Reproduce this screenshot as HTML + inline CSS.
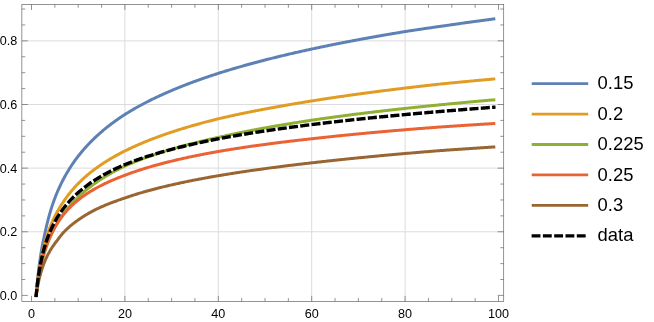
<!DOCTYPE html><html><head><meta charset="utf-8"><style>html,body{margin:0;padding:0;background:#fff;overflow:hidden}svg{display:block;will-change:transform}text{font-family:"Liberation Sans",sans-serif;fill:#000}</style></head><body>
<svg width="654" height="322" viewBox="0 0 654 322">
<rect width="654" height="322" fill="#fff"/>
<g stroke="#dcdcdc" stroke-width="1" fill="none"><line x1="124.90" y1="4.35" x2="124.90" y2="301.45"/><line x1="218.30" y1="4.35" x2="218.30" y2="301.45"/><line x1="311.70" y1="4.35" x2="311.70" y2="301.45"/><line x1="405.10" y1="4.35" x2="405.10" y2="301.45"/><line x1="21.85" y1="231.78" x2="503.70" y2="231.78"/><line x1="21.85" y1="168.14" x2="503.70" y2="168.14"/><line x1="21.85" y1="104.50" x2="503.70" y2="104.50"/><line x1="21.85" y1="40.86" x2="503.70" y2="40.86"/></g>
<g fill="none" stroke-width="3" stroke-linejoin="round" stroke-linecap="square">
<path d="M36.17,295.40 L37.10,284.35 L38.04,275.15 L38.97,267.26 L39.91,260.37 L40.84,254.25 L41.77,248.75 L42.71,243.75 L43.64,239.18 L44.58,234.92 L45.51,230.50 L46.44,226.37 L47.38,222.50 L48.31,218.87 L49.25,215.43 L50.18,212.19 L51.11,209.10 L52.05,206.16 L52.98,203.36 L53.92,200.68 L54.85,198.18 L55.78,195.79 L56.72,193.49 L57.65,191.27 L58.59,189.14 L59.52,187.08 L60.45,185.09 L61.39,183.16 L62.32,181.29 L63.26,179.48 L64.19,177.73 L65.12,176.02 L66.06,174.37 L66.99,172.75 L67.93,171.18 L68.86,169.66 L69.79,168.16 L70.73,166.71 L71.66,165.29 L72.60,163.90 L73.53,162.55 L74.46,161.22 L75.40,159.93 L76.33,158.66 L77.27,157.42 L78.20,156.20 L79.13,155.01 L80.07,153.84 L81.00,152.69 L81.94,151.57 L82.87,150.46 L83.80,149.38 L84.74,148.31 L85.67,147.26 L86.61,146.24 L87.54,145.23 L88.47,144.23 L89.41,143.25 L90.34,142.29 L91.28,141.34 L92.21,140.41 L93.14,139.49 L94.08,138.59 L95.01,137.70 L95.95,136.82 L96.88,135.95 L97.81,135.10 L98.75,134.26 L99.68,133.43 L100.62,132.61 L101.55,131.80 L102.48,131.00 L103.42,130.22 L104.35,129.44 L105.29,128.67 L106.22,127.92 L107.15,127.17 L108.09,126.43 L109.02,125.70 L109.96,124.98 L110.89,124.27 L111.82,123.56 L112.76,122.87 L113.69,122.18 L114.63,121.50 L115.56,120.82 L116.49,120.16 L117.43,119.50 L118.36,118.85 L119.30,118.20 L120.23,117.56 L121.16,116.93 L122.10,116.31 L123.03,115.69 L123.97,115.08 L124.90,114.47 L125.83,113.88 L126.77,113.30 L127.70,112.73 L128.64,112.16 L129.57,111.60 L130.50,111.04 L131.44,110.48 L132.37,109.93 L133.31,109.39 L134.24,108.85 L135.17,108.32 L136.11,107.79 L137.04,107.27 L137.98,106.75 L138.91,106.23 L139.84,105.72 L140.78,105.21 L141.71,104.71 L142.65,104.21 L143.58,103.72 L144.51,103.23 L145.45,102.74 L146.38,102.26 L147.32,101.78 L148.25,101.31 L149.18,100.84 L150.12,100.37 L151.05,99.90 L151.99,99.44 L152.92,98.99 L153.85,98.53 L154.79,98.08 L155.72,97.64 L156.66,97.19 L157.59,96.75 L158.52,96.32 L159.46,95.88 L160.39,95.45 L161.33,95.02 L162.26,94.60 L163.19,94.18 L164.13,93.76 L165.06,93.34 L166.00,92.93 L166.93,92.52 L167.86,92.11 L168.80,91.70 L169.73,91.30 L170.67,90.90 L171.60,90.51 L172.53,90.11 L173.47,89.72 L174.40,89.33 L175.34,88.94 L176.27,88.56 L177.20,88.17 L178.14,87.80 L179.07,87.42 L180.01,87.04 L180.94,86.67 L181.87,86.30 L182.81,85.93 L183.74,85.56 L184.68,85.20 L185.61,84.84 L186.54,84.48 L187.48,84.12 L188.41,83.76 L189.35,83.41 L190.28,83.06 L191.21,82.71 L192.15,82.36 L193.08,82.02 L194.02,81.67 L194.95,81.33 L195.88,80.99 L196.82,80.65 L197.75,80.32 L198.69,79.98 L199.62,79.65 L200.55,79.32 L201.49,78.99 L202.42,78.66 L203.36,78.34 L204.29,78.01 L205.22,77.69 L206.16,77.37 L207.09,77.05 L208.03,76.73 L208.96,76.42 L209.89,76.10 L210.83,75.79 L211.76,75.48 L212.70,75.17 L213.63,74.86 L214.56,74.56 L215.50,74.25 L216.43,73.95 L217.37,73.65 L218.30,73.35 L219.23,73.05 L220.17,72.76 L221.10,72.46 L222.04,72.17 L222.97,71.88 L223.90,71.59 L224.84,71.30 L225.77,71.02 L226.71,70.73 L227.64,70.45 L228.57,70.16 L229.51,69.88 L230.44,69.60 L231.38,69.32 L232.31,69.04 L233.24,68.77 L234.18,68.49 L235.11,68.22 L236.05,67.95 L236.98,67.67 L237.91,67.40 L238.85,67.13 L239.78,66.87 L240.72,66.60 L241.65,66.33 L242.58,66.07 L243.52,65.80 L244.45,65.54 L245.39,65.28 L246.32,65.02 L247.25,64.76 L248.19,64.50 L249.12,64.25 L250.06,63.99 L250.99,63.74 L251.92,63.48 L252.86,63.23 L253.79,62.98 L254.73,62.73 L255.66,62.48 L256.59,62.23 L257.53,61.98 L258.46,61.73 L259.40,61.49 L260.33,61.24 L261.26,61.00 L262.20,60.75 L263.13,60.51 L264.07,60.27 L265.00,60.03 L265.93,59.79 L266.87,59.55 L267.80,59.31 L268.74,59.08 L269.67,58.84 L270.60,58.61 L271.54,58.37 L272.47,58.14 L273.41,57.91 L274.34,57.68 L275.27,57.45 L276.21,57.22 L277.14,56.99 L278.08,56.76 L279.01,56.53 L279.94,56.30 L280.88,56.08 L281.81,55.85 L282.75,55.63 L283.68,55.41 L284.61,55.18 L285.55,54.96 L286.48,54.74 L287.42,54.52 L288.35,54.30 L289.28,54.08 L290.22,53.87 L291.15,53.65 L292.09,53.43 L293.02,53.22 L293.95,53.00 L294.89,52.79 L295.82,52.57 L296.76,52.36 L297.69,52.15 L298.62,51.94 L299.56,51.73 L300.49,51.52 L301.43,51.31 L302.36,51.10 L303.29,50.89 L304.23,50.69 L305.16,50.48 L306.10,50.27 L307.03,50.07 L307.96,49.86 L308.90,49.66 L309.83,49.46 L310.77,49.25 L311.70,49.05 L312.63,48.85 L313.57,48.65 L314.50,48.45 L315.44,48.25 L316.37,48.05 L317.30,47.86 L318.24,47.66 L319.17,47.46 L320.11,47.27 L321.04,47.07 L321.97,46.88 L322.91,46.68 L323.84,46.49 L324.78,46.30 L325.71,46.10 L326.64,45.91 L327.58,45.72 L328.51,45.53 L329.45,45.34 L330.38,45.15 L331.31,44.96 L332.25,44.77 L333.18,44.59 L334.12,44.40 L335.05,44.21 L335.98,44.03 L336.92,43.84 L337.85,43.66 L338.79,43.47 L339.72,43.29 L340.65,43.10 L341.59,42.92 L342.52,42.74 L343.46,42.56 L344.39,42.38 L345.32,42.20 L346.26,42.02 L347.19,41.84 L348.13,41.66 L349.06,41.48 L349.99,41.30 L350.93,41.12 L351.86,40.94 L352.80,40.77 L353.73,40.59 L354.66,40.41 L355.60,40.24 L356.53,40.06 L357.47,39.89 L358.40,39.72 L359.33,39.54 L360.27,39.37 L361.20,39.20 L362.14,39.02 L363.07,38.85 L364.00,38.68 L364.94,38.51 L365.87,38.34 L366.81,38.17 L367.74,38.00 L368.67,37.83 L369.61,37.66 L370.54,37.50 L371.48,37.33 L372.41,37.16 L373.34,36.99 L374.28,36.83 L375.21,36.66 L376.15,36.50 L377.08,36.33 L378.01,36.17 L378.95,36.00 L379.88,35.84 L380.82,35.68 L381.75,35.51 L382.68,35.35 L383.62,35.19 L384.55,35.03 L385.49,34.86 L386.42,34.70 L387.35,34.54 L388.29,34.38 L389.22,34.22 L390.16,34.06 L391.09,33.90 L392.02,33.75 L392.96,33.59 L393.89,33.43 L394.83,33.27 L395.76,33.12 L396.69,32.96 L397.63,32.80 L398.56,32.65 L399.50,32.49 L400.43,32.34 L401.36,32.18 L402.30,32.03 L403.23,31.87 L404.17,31.72 L405.10,31.57 L406.03,31.42 L406.97,31.28 L407.90,31.13 L408.84,30.99 L409.77,30.85 L410.70,30.71 L411.64,30.56 L412.57,30.42 L413.51,30.28 L414.44,30.14 L415.37,30.00 L416.31,29.86 L417.24,29.71 L418.18,29.57 L419.11,29.43 L420.04,29.30 L420.98,29.16 L421.91,29.02 L422.85,28.88 L423.78,28.74 L424.71,28.60 L425.65,28.46 L426.58,28.33 L427.52,28.19 L428.45,28.05 L429.38,27.92 L430.32,27.78 L431.25,27.65 L432.19,27.51 L433.12,27.37 L434.05,27.24 L434.99,27.10 L435.92,26.97 L436.86,26.84 L437.79,26.70 L438.72,26.57 L439.66,26.44 L440.59,26.30 L441.53,26.17 L442.46,26.04 L443.39,25.91 L444.33,25.77 L445.26,25.64 L446.20,25.51 L447.13,25.38 L448.06,25.25 L449.00,25.12 L449.93,24.99 L450.87,24.85 L451.80,24.72 L452.73,24.58 L453.67,24.45 L454.60,24.31 L455.54,24.18 L456.47,24.05 L457.40,23.91 L458.34,23.78 L459.27,23.65 L460.21,23.52 L461.14,23.38 L462.07,23.25 L463.01,23.12 L463.94,22.99 L464.88,22.86 L465.81,22.73 L466.74,22.59 L467.68,22.46 L468.61,22.33 L469.55,22.20 L470.48,22.07 L471.41,21.94 L472.35,21.82 L473.28,21.69 L474.22,21.56 L475.15,21.43 L476.08,21.30 L477.02,21.17 L477.95,21.05 L478.89,20.92 L479.82,20.79 L480.75,20.66 L481.69,20.54 L482.62,20.41 L483.56,20.29 L484.49,20.16 L485.42,20.03 L486.36,19.91 L487.29,19.78 L488.23,19.66 L489.16,19.53 L490.09,19.41 L491.03,19.28 L491.96,19.16 L492.90,19.04 L493.83,18.91" stroke="#5E81B5"/>
<path d="M36.17,295.40 L37.10,286.01 L38.04,278.17 L38.97,271.44 L39.91,265.56 L40.84,260.34 L41.77,255.65 L42.71,251.39 L43.64,247.49 L44.58,243.90 L45.51,240.56 L46.44,237.46 L47.38,234.56 L48.31,231.83 L49.25,229.26 L50.18,226.83 L51.11,224.53 L52.05,222.34 L52.98,220.25 L53.92,218.26 L54.85,216.35 L55.78,214.52 L56.72,212.76 L57.65,211.07 L58.59,209.44 L59.52,207.87 L60.45,206.36 L61.39,204.89 L62.32,203.47 L63.26,202.08 L64.19,200.68 L65.12,199.32 L66.06,198.00 L66.99,196.72 L67.93,195.47 L68.86,194.25 L69.79,193.07 L70.73,191.92 L71.66,190.79 L72.60,189.69 L73.53,188.62 L74.46,187.57 L75.40,186.54 L76.33,185.54 L77.27,184.56 L78.20,183.59 L79.13,182.65 L80.07,181.73 L81.00,180.82 L81.94,179.94 L82.87,179.07 L83.80,178.21 L84.74,177.38 L85.67,176.55 L86.61,175.74 L87.54,174.95 L88.47,174.17 L89.41,173.40 L90.34,172.64 L91.28,171.90 L92.21,171.17 L93.14,170.45 L94.08,169.74 L95.01,169.05 L95.95,168.36 L96.88,167.68 L97.81,167.01 L98.75,166.36 L99.68,165.71 L100.62,165.07 L101.55,164.44 L102.48,163.82 L103.42,163.21 L104.35,162.60 L105.29,162.00 L106.22,161.41 L107.15,160.83 L108.09,160.26 L109.02,159.69 L109.96,159.13 L110.89,158.58 L111.82,158.03 L112.76,157.49 L113.69,156.96 L114.63,156.43 L115.56,155.91 L116.49,155.39 L117.43,154.88 L118.36,154.38 L119.30,153.88 L120.23,153.38 L121.16,152.90 L122.10,152.41 L123.03,151.94 L123.97,151.46 L124.90,150.99 L125.83,150.53 L126.77,150.07 L127.70,149.61 L128.64,149.16 L129.57,148.71 L130.50,148.27 L131.44,147.83 L132.37,147.40 L133.31,146.97 L134.24,146.54 L135.17,146.12 L136.11,145.70 L137.04,145.29 L137.98,144.88 L138.91,144.47 L139.84,144.07 L140.78,143.67 L141.71,143.27 L142.65,142.88 L143.58,142.49 L144.51,142.10 L145.45,141.72 L146.38,141.34 L147.32,140.96 L148.25,140.59 L149.18,140.22 L150.12,139.85 L151.05,139.48 L151.99,139.12 L152.92,138.76 L153.85,138.41 L154.79,138.05 L155.72,137.70 L156.66,137.35 L157.59,137.01 L158.52,136.67 L159.46,136.33 L160.39,135.99 L161.33,135.65 L162.26,135.32 L163.19,134.99 L164.13,134.66 L165.06,134.34 L166.00,134.01 L166.93,133.69 L167.86,133.37 L168.80,133.06 L169.73,132.74 L170.67,132.43 L171.60,132.12 L172.53,131.81 L173.47,131.50 L174.40,131.20 L175.34,130.90 L176.27,130.60 L177.20,130.30 L178.14,130.00 L179.07,129.71 L180.01,129.42 L180.94,129.13 L181.87,128.84 L182.81,128.55 L183.74,128.27 L184.68,127.98 L185.61,127.70 L186.54,127.42 L187.48,127.14 L188.41,126.87 L189.35,126.59 L190.28,126.32 L191.21,126.05 L192.15,125.78 L193.08,125.51 L194.02,125.24 L194.95,124.98 L195.88,124.72 L196.82,124.45 L197.75,124.19 L198.69,123.93 L199.62,123.68 L200.55,123.42 L201.49,123.17 L202.42,122.91 L203.36,122.66 L204.29,122.41 L205.22,122.16 L206.16,121.91 L207.09,121.67 L208.03,121.42 L208.96,121.18 L209.89,120.93 L210.83,120.69 L211.76,120.45 L212.70,120.21 L213.63,119.98 L214.56,119.74 L215.50,119.51 L216.43,119.27 L217.37,119.04 L218.30,118.81 L219.23,118.59 L220.17,118.37 L221.10,118.16 L222.04,117.94 L222.97,117.73 L223.90,117.51 L224.84,117.30 L225.77,117.09 L226.71,116.88 L227.64,116.67 L228.57,116.46 L229.51,116.26 L230.44,116.05 L231.38,115.84 L232.31,115.64 L233.24,115.44 L234.18,115.23 L235.11,115.03 L236.05,114.83 L236.98,114.63 L237.91,114.43 L238.85,114.24 L239.78,114.04 L240.72,113.84 L241.65,113.65 L242.58,113.45 L243.52,113.26 L244.45,113.07 L245.39,112.88 L246.32,112.69 L247.25,112.50 L248.19,112.31 L249.12,112.12 L250.06,111.93 L250.99,111.74 L251.92,111.56 L252.86,111.37 L253.79,111.19 L254.73,111.01 L255.66,110.82 L256.59,110.64 L257.53,110.46 L258.46,110.28 L259.40,110.10 L260.33,109.92 L261.26,109.74 L262.20,109.56 L263.13,109.39 L264.07,109.21 L265.00,109.04 L265.93,108.86 L266.87,108.69 L267.80,108.51 L268.74,108.34 L269.67,108.17 L270.60,108.00 L271.54,107.83 L272.47,107.66 L273.41,107.49 L274.34,107.32 L275.27,107.15 L276.21,106.98 L277.14,106.82 L278.08,106.65 L279.01,106.49 L279.94,106.32 L280.88,106.16 L281.81,105.99 L282.75,105.83 L283.68,105.66 L284.61,105.50 L285.55,105.33 L286.48,105.17 L287.42,105.00 L288.35,104.84 L289.28,104.68 L290.22,104.52 L291.15,104.36 L292.09,104.19 L293.02,104.03 L293.95,103.87 L294.89,103.72 L295.82,103.56 L296.76,103.40 L297.69,103.24 L298.62,103.09 L299.56,102.93 L300.49,102.77 L301.43,102.62 L302.36,102.46 L303.29,102.31 L304.23,102.16 L305.16,102.00 L306.10,101.85 L307.03,101.70 L307.96,101.55 L308.90,101.40 L309.83,101.25 L310.77,101.10 L311.70,100.95 L312.63,100.80 L313.57,100.65 L314.50,100.50 L315.44,100.36 L316.37,100.21 L317.30,100.06 L318.24,99.92 L319.17,99.77 L320.11,99.63 L321.04,99.48 L321.97,99.34 L322.91,99.19 L323.84,99.05 L324.78,98.91 L325.71,98.77 L326.64,98.62 L327.58,98.48 L328.51,98.34 L329.45,98.20 L330.38,98.06 L331.31,97.92 L332.25,97.78 L333.18,97.64 L334.12,97.51 L335.05,97.37 L335.98,97.23 L336.92,97.09 L337.85,96.96 L338.79,96.82 L339.72,96.68 L340.65,96.55 L341.59,96.41 L342.52,96.28 L343.46,96.15 L344.39,96.01 L345.32,95.88 L346.26,95.75 L347.19,95.61 L348.13,95.48 L349.06,95.35 L349.99,95.22 L350.93,95.09 L351.86,94.96 L352.80,94.83 L353.73,94.70 L354.66,94.57 L355.60,94.44 L356.53,94.31 L357.47,94.18 L358.40,94.05 L359.33,93.93 L360.27,93.80 L361.20,93.67 L362.14,93.55 L363.07,93.42 L364.00,93.29 L364.94,93.17 L365.87,93.04 L366.81,92.92 L367.74,92.79 L368.67,92.67 L369.61,92.55 L370.54,92.42 L371.48,92.30 L372.41,92.18 L373.34,92.06 L374.28,91.93 L375.21,91.81 L376.15,91.69 L377.08,91.57 L378.01,91.45 L378.95,91.33 L379.88,91.21 L380.82,91.09 L381.75,90.97 L382.68,90.85 L383.62,90.73 L384.55,90.61 L385.49,90.49 L386.42,90.38 L387.35,90.26 L388.29,90.14 L389.22,90.02 L390.16,89.91 L391.09,89.79 L392.02,89.68 L392.96,89.56 L393.89,89.44 L394.83,89.33 L395.76,89.21 L396.69,89.10 L397.63,88.99 L398.56,88.87 L399.50,88.76 L400.43,88.65 L401.36,88.53 L402.30,88.42 L403.23,88.31 L404.17,88.19 L405.10,88.08 L406.03,87.97 L406.97,87.86 L407.90,87.75 L408.84,87.64 L409.77,87.53 L410.70,87.42 L411.64,87.31 L412.57,87.20 L413.51,87.09 L414.44,86.98 L415.37,86.87 L416.31,86.76 L417.24,86.65 L418.18,86.54 L419.11,86.44 L420.04,86.33 L420.98,86.22 L421.91,86.11 L422.85,86.01 L423.78,85.90 L424.71,85.79 L425.65,85.69 L426.58,85.58 L427.52,85.48 L428.45,85.37 L429.38,85.27 L430.32,85.16 L431.25,85.06 L432.19,84.95 L433.12,84.85 L434.05,84.74 L434.99,84.64 L435.92,84.54 L436.86,84.43 L437.79,84.33 L438.72,84.23 L439.66,84.13 L440.59,84.03 L441.53,83.94 L442.46,83.84 L443.39,83.75 L444.33,83.66 L445.26,83.56 L446.20,83.47 L447.13,83.38 L448.06,83.29 L449.00,83.19 L449.93,83.10 L450.87,83.01 L451.80,82.92 L452.73,82.83 L453.67,82.74 L454.60,82.65 L455.54,82.55 L456.47,82.46 L457.40,82.37 L458.34,82.28 L459.27,82.19 L460.21,82.10 L461.14,82.01 L462.07,81.93 L463.01,81.84 L463.94,81.75 L464.88,81.66 L465.81,81.57 L466.74,81.48 L467.68,81.39 L468.61,81.31 L469.55,81.22 L470.48,81.13 L471.41,81.04 L472.35,80.96 L473.28,80.87 L474.22,80.78 L475.15,80.70 L476.08,80.61 L477.02,80.52 L477.95,80.44 L478.89,80.35 L479.82,80.26 L480.75,80.18 L481.69,80.09 L482.62,80.01 L483.56,79.92 L484.49,79.84 L485.42,79.75 L486.36,79.67 L487.29,79.58 L488.23,79.50 L489.16,79.42 L490.09,79.33 L491.03,79.25 L491.96,79.17 L492.90,79.08 L493.83,79.00" stroke="#E19C24"/>
<path d="M36.17,295.40 L37.10,287.89 L38.04,281.51 L38.97,275.95 L39.91,271.02 L40.84,266.60 L41.77,262.59 L42.71,258.92 L43.64,255.54 L44.58,252.40 L45.51,249.48 L46.44,246.74 L47.38,244.17 L48.31,241.74 L49.25,239.44 L50.18,237.25 L51.11,235.14 L52.05,233.12 L52.98,231.20 L53.92,229.35 L54.85,227.58 L55.78,225.88 L56.72,224.25 L57.65,222.67 L58.59,221.15 L59.52,219.68 L60.45,218.25 L61.39,216.88 L62.32,215.54 L63.26,214.25 L64.19,212.99 L65.12,211.77 L66.06,210.58 L66.99,209.43 L67.93,208.30 L68.86,207.21 L69.79,206.10 L70.73,205.01 L71.66,203.95 L72.60,202.91 L73.53,201.89 L74.46,200.90 L75.40,199.93 L76.33,198.98 L77.27,198.05 L78.20,197.14 L79.13,196.25 L80.07,195.37 L81.00,194.51 L81.94,193.67 L82.87,192.84 L83.80,192.03 L84.74,191.24 L85.67,190.45 L86.61,189.68 L87.54,188.93 L88.47,188.18 L89.41,187.45 L90.34,186.73 L91.28,186.03 L92.21,185.33 L93.14,184.64 L94.08,183.97 L95.01,183.30 L95.95,182.65 L96.88,182.00 L97.81,181.37 L98.75,180.74 L99.68,180.12 L100.62,179.51 L101.55,178.91 L102.48,178.32 L103.42,177.73 L104.35,177.16 L105.29,176.59 L106.22,176.02 L107.15,175.47 L108.09,174.92 L109.02,174.38 L109.96,173.84 L110.89,173.32 L111.82,172.79 L112.76,172.28 L113.69,171.77 L114.63,171.26 L115.56,170.76 L116.49,170.27 L117.43,169.79 L118.36,169.30 L119.30,168.83 L120.23,168.36 L121.16,167.89 L122.10,167.43 L123.03,166.97 L123.97,166.52 L124.90,166.07 L125.83,165.65 L126.77,165.24 L127.70,164.83 L128.64,164.43 L129.57,164.03 L130.50,163.63 L131.44,163.24 L132.37,162.85 L133.31,162.47 L134.24,162.09 L135.17,161.71 L136.11,161.33 L137.04,160.96 L137.98,160.59 L138.91,160.23 L139.84,159.87 L140.78,159.51 L141.71,159.16 L142.65,158.81 L143.58,158.46 L144.51,158.11 L145.45,157.77 L146.38,157.43 L147.32,157.09 L148.25,156.76 L149.18,156.43 L150.12,156.10 L151.05,155.77 L151.99,155.45 L152.92,155.13 L153.85,154.81 L154.79,154.50 L155.72,154.18 L156.66,153.87 L157.59,153.56 L158.52,153.26 L159.46,152.96 L160.39,152.65 L161.33,152.35 L162.26,152.06 L163.19,151.76 L164.13,151.47 L165.06,151.18 L166.00,150.89 L166.93,150.61 L167.86,150.32 L168.80,150.04 L169.73,149.76 L170.67,149.48 L171.60,149.21 L172.53,148.93 L173.47,148.66 L174.40,148.39 L175.34,148.12 L176.27,147.85 L177.20,147.59 L178.14,147.33 L179.07,147.06 L180.01,146.80 L180.94,146.55 L181.87,146.29 L182.81,146.03 L183.74,145.78 L184.68,145.53 L185.61,145.28 L186.54,145.03 L187.48,144.78 L188.41,144.54 L189.35,144.30 L190.28,144.05 L191.21,143.81 L192.15,143.57 L193.08,143.34 L194.02,143.10 L194.95,142.86 L195.88,142.63 L196.82,142.40 L197.75,142.17 L198.69,141.94 L199.62,141.71 L200.55,141.48 L201.49,141.26 L202.42,141.03 L203.36,140.81 L204.29,140.59 L205.22,140.37 L206.16,140.15 L207.09,139.93 L208.03,139.71 L208.96,139.50 L209.89,139.28 L210.83,139.07 L211.76,138.86 L212.70,138.65 L213.63,138.44 L214.56,138.23 L215.50,138.02 L216.43,137.82 L217.37,137.61 L218.30,137.40 L219.23,137.19 L220.17,136.98 L221.10,136.76 L222.04,136.55 L222.97,136.35 L223.90,136.14 L224.84,135.93 L225.77,135.72 L226.71,135.52 L227.64,135.31 L228.57,135.11 L229.51,134.91 L230.44,134.71 L231.38,134.51 L232.31,134.31 L233.24,134.11 L234.18,133.91 L235.11,133.72 L236.05,133.52 L236.98,133.33 L237.91,133.13 L238.85,132.94 L239.78,132.75 L240.72,132.56 L241.65,132.37 L242.58,132.18 L243.52,131.99 L244.45,131.80 L245.39,131.62 L246.32,131.43 L247.25,131.25 L248.19,131.06 L249.12,130.88 L250.06,130.70 L250.99,130.52 L251.92,130.34 L252.86,130.16 L253.79,129.98 L254.73,129.80 L255.66,129.62 L256.59,129.45 L257.53,129.27 L258.46,129.10 L259.40,128.92 L260.33,128.75 L261.26,128.57 L262.20,128.40 L263.13,128.23 L264.07,128.06 L265.00,127.89 L265.93,127.72 L266.87,127.55 L267.80,127.39 L268.74,127.22 L269.67,127.05 L270.60,126.89 L271.54,126.72 L272.47,126.56 L273.41,126.39 L274.34,126.23 L275.27,126.07 L276.21,125.91 L277.14,125.74 L278.08,125.58 L279.01,125.42 L279.94,125.27 L280.88,125.11 L281.81,124.95 L282.75,124.79 L283.68,124.64 L284.61,124.48 L285.55,124.32 L286.48,124.17 L287.42,124.01 L288.35,123.86 L289.28,123.71 L290.22,123.56 L291.15,123.40 L292.09,123.25 L293.02,123.10 L293.95,122.95 L294.89,122.80 L295.82,122.65 L296.76,122.50 L297.69,122.36 L298.62,122.21 L299.56,122.06 L300.49,121.92 L301.43,121.77 L302.36,121.62 L303.29,121.48 L304.23,121.34 L305.16,121.19 L306.10,121.05 L307.03,120.91 L307.96,120.76 L308.90,120.62 L309.83,120.48 L310.77,120.34 L311.70,120.20 L312.63,120.06 L313.57,119.93 L314.50,119.79 L315.44,119.65 L316.37,119.52 L317.30,119.38 L318.24,119.25 L319.17,119.12 L320.11,118.98 L321.04,118.85 L321.97,118.72 L322.91,118.58 L323.84,118.45 L324.78,118.32 L325.71,118.19 L326.64,118.06 L327.58,117.93 L328.51,117.80 L329.45,117.67 L330.38,117.54 L331.31,117.41 L332.25,117.29 L333.18,117.16 L334.12,117.03 L335.05,116.91 L335.98,116.78 L336.92,116.65 L337.85,116.53 L338.79,116.40 L339.72,116.28 L340.65,116.16 L341.59,116.03 L342.52,115.91 L343.46,115.79 L344.39,115.66 L345.32,115.54 L346.26,115.42 L347.19,115.30 L348.13,115.18 L349.06,115.06 L349.99,114.94 L350.93,114.82 L351.86,114.70 L352.80,114.58 L353.73,114.46 L354.66,114.34 L355.60,114.22 L356.53,114.10 L357.47,113.99 L358.40,113.87 L359.33,113.75 L360.27,113.64 L361.20,113.52 L362.14,113.41 L363.07,113.29 L364.00,113.18 L364.94,113.06 L365.87,112.95 L366.81,112.83 L367.74,112.72 L368.67,112.61 L369.61,112.49 L370.54,112.38 L371.48,112.27 L372.41,112.16 L373.34,112.05 L374.28,111.93 L375.21,111.82 L376.15,111.71 L377.08,111.60 L378.01,111.49 L378.95,111.38 L379.88,111.27 L380.82,111.16 L381.75,111.06 L382.68,110.95 L383.62,110.84 L384.55,110.73 L385.49,110.62 L386.42,110.52 L387.35,110.41 L388.29,110.30 L389.22,110.20 L390.16,110.09 L391.09,109.99 L392.02,109.88 L392.96,109.78 L393.89,109.67 L394.83,109.57 L395.76,109.46 L396.69,109.36 L397.63,109.25 L398.56,109.15 L399.50,109.05 L400.43,108.95 L401.36,108.84 L402.30,108.74 L403.23,108.64 L404.17,108.54 L405.10,108.44 L406.03,108.33 L406.97,108.23 L407.90,108.13 L408.84,108.03 L409.77,107.93 L410.70,107.83 L411.64,107.73 L412.57,107.63 L413.51,107.54 L414.44,107.44 L415.37,107.34 L416.31,107.24 L417.24,107.14 L418.18,107.04 L419.11,106.95 L420.04,106.85 L420.98,106.75 L421.91,106.66 L422.85,106.56 L423.78,106.46 L424.71,106.37 L425.65,106.27 L426.58,106.18 L427.52,106.08 L428.45,105.98 L429.38,105.89 L430.32,105.80 L431.25,105.70 L432.19,105.61 L433.12,105.51 L434.05,105.42 L434.99,105.33 L435.92,105.23 L436.86,105.14 L437.79,105.05 L438.72,104.95 L439.66,104.86 L440.59,104.77 L441.53,104.68 L442.46,104.59 L443.39,104.50 L444.33,104.40 L445.26,104.31 L446.20,104.22 L447.13,104.13 L448.06,104.04 L449.00,103.95 L449.93,103.86 L450.87,103.77 L451.80,103.68 L452.73,103.59 L453.67,103.50 L454.60,103.42 L455.54,103.33 L456.47,103.24 L457.40,103.15 L458.34,103.06 L459.27,102.98 L460.21,102.89 L461.14,102.80 L462.07,102.71 L463.01,102.63 L463.94,102.54 L464.88,102.45 L465.81,102.37 L466.74,102.28 L467.68,102.19 L468.61,102.11 L469.55,102.02 L470.48,101.94 L471.41,101.85 L472.35,101.77 L473.28,101.68 L474.22,101.60 L475.15,101.51 L476.08,101.43 L477.02,101.35 L477.95,101.26 L478.89,101.18 L479.82,101.10 L480.75,101.01 L481.69,100.93 L482.62,100.85 L483.56,100.76 L484.49,100.68 L485.42,100.60 L486.36,100.52 L487.29,100.43 L488.23,100.35 L489.16,100.27 L490.09,100.19 L491.03,100.11 L491.96,100.03 L492.90,99.95 L493.83,99.87" stroke="#8FB032"/>
<path d="M36.17,295.40 L37.10,287.22 L38.04,280.40 L38.97,274.57 L39.91,269.48 L40.84,264.96 L41.77,260.92 L42.71,257.25 L43.64,253.90 L44.58,250.83 L45.51,247.98 L46.44,245.33 L47.38,242.86 L48.31,240.54 L49.25,238.35 L50.18,236.29 L51.11,234.34 L52.05,232.49 L52.98,230.66 L53.92,228.92 L54.85,227.26 L55.78,225.67 L56.72,224.15 L57.65,222.68 L58.59,221.27 L59.52,219.91 L60.45,218.61 L61.39,217.34 L62.32,216.12 L63.26,214.94 L64.19,213.80 L65.12,212.69 L66.06,211.61 L66.99,210.57 L67.93,209.56 L68.86,208.57 L69.79,207.61 L70.73,206.68 L71.66,205.77 L72.60,204.88 L73.53,204.02 L74.46,203.17 L75.40,202.35 L76.33,201.54 L77.27,200.75 L78.20,199.99 L79.13,199.26 L80.07,198.54 L81.00,197.84 L81.94,197.15 L82.87,196.48 L83.80,195.82 L84.74,195.17 L85.67,194.54 L86.61,193.92 L87.54,193.31 L88.47,192.71 L89.41,192.12 L90.34,191.54 L91.28,190.97 L92.21,190.41 L93.14,189.87 L94.08,189.33 L95.01,188.79 L95.95,188.27 L96.88,187.76 L97.81,187.25 L98.75,186.75 L99.68,186.26 L100.62,185.78 L101.55,185.30 L102.48,184.83 L103.42,184.37 L104.35,183.91 L105.29,183.46 L106.22,183.02 L107.15,182.58 L108.09,182.15 L109.02,181.72 L109.96,181.30 L110.89,180.89 L111.82,180.48 L112.76,180.08 L113.69,179.68 L114.63,179.28 L115.56,178.90 L116.49,178.51 L117.43,178.13 L118.36,177.76 L119.30,177.39 L120.23,177.02 L121.16,176.66 L122.10,176.30 L123.03,175.95 L123.97,175.60 L124.90,175.25 L125.83,174.90 L126.77,174.55 L127.70,174.20 L128.64,173.86 L129.57,173.52 L130.50,173.18 L131.44,172.85 L132.37,172.52 L133.31,172.20 L134.24,171.88 L135.17,171.56 L136.11,171.24 L137.04,170.93 L137.98,170.62 L138.91,170.31 L139.84,170.01 L140.78,169.71 L141.71,169.41 L142.65,169.12 L143.58,168.82 L144.51,168.54 L145.45,168.25 L146.38,167.96 L147.32,167.68 L148.25,167.40 L149.18,167.13 L150.12,166.85 L151.05,166.58 L151.99,166.31 L152.92,166.04 L153.85,165.78 L154.79,165.51 L155.72,165.25 L156.66,165.00 L157.59,164.74 L158.52,164.48 L159.46,164.23 L160.39,163.98 L161.33,163.73 L162.26,163.49 L163.19,163.24 L164.13,163.00 L165.06,162.76 L166.00,162.52 L166.93,162.29 L167.86,162.05 L168.80,161.82 L169.73,161.59 L170.67,161.36 L171.60,161.13 L172.53,160.90 L173.47,160.68 L174.40,160.45 L175.34,160.23 L176.27,160.01 L177.20,159.79 L178.14,159.58 L179.07,159.36 L180.01,159.15 L180.94,158.94 L181.87,158.73 L182.81,158.52 L183.74,158.31 L184.68,158.10 L185.61,157.90 L186.54,157.69 L187.48,157.49 L188.41,157.29 L189.35,157.09 L190.28,156.89 L191.21,156.69 L192.15,156.50 L193.08,156.30 L194.02,156.11 L194.95,155.92 L195.88,155.73 L196.82,155.54 L197.75,155.35 L198.69,155.16 L199.62,154.98 L200.55,154.79 L201.49,154.61 L202.42,154.43 L203.36,154.24 L204.29,154.06 L205.22,153.88 L206.16,153.71 L207.09,153.53 L208.03,153.35 L208.96,153.18 L209.89,153.00 L210.83,152.83 L211.76,152.66 L212.70,152.49 L213.63,152.32 L214.56,152.15 L215.50,151.98 L216.43,151.81 L217.37,151.64 L218.30,151.48 L219.23,151.32 L220.17,151.16 L221.10,151.00 L222.04,150.85 L222.97,150.69 L223.90,150.53 L224.84,150.38 L225.77,150.22 L226.71,150.07 L227.64,149.92 L228.57,149.77 L229.51,149.62 L230.44,149.47 L231.38,149.32 L232.31,149.17 L233.24,149.02 L234.18,148.87 L235.11,148.73 L236.05,148.58 L236.98,148.44 L237.91,148.29 L238.85,148.15 L239.78,148.01 L240.72,147.87 L241.65,147.73 L242.58,147.58 L243.52,147.45 L244.45,147.31 L245.39,147.17 L246.32,147.03 L247.25,146.89 L248.19,146.76 L249.12,146.62 L250.06,146.49 L250.99,146.35 L251.92,146.22 L252.86,146.08 L253.79,145.95 L254.73,145.82 L255.66,145.69 L256.59,145.56 L257.53,145.43 L258.46,145.30 L259.40,145.17 L260.33,145.04 L261.26,144.91 L262.20,144.79 L263.13,144.66 L264.07,144.54 L265.00,144.41 L265.93,144.28 L266.87,144.16 L267.80,144.04 L268.74,143.91 L269.67,143.79 L270.60,143.67 L271.54,143.55 L272.47,143.43 L273.41,143.31 L274.34,143.19 L275.27,143.07 L276.21,142.95 L277.14,142.83 L278.08,142.71 L279.01,142.59 L279.94,142.48 L280.88,142.36 L281.81,142.24 L282.75,142.13 L283.68,142.01 L284.61,141.90 L285.55,141.79 L286.48,141.67 L287.42,141.56 L288.35,141.45 L289.28,141.33 L290.22,141.22 L291.15,141.11 L292.09,141.00 L293.02,140.89 L293.95,140.78 L294.89,140.67 L295.82,140.56 L296.76,140.45 L297.69,140.34 L298.62,140.24 L299.56,140.13 L300.49,140.02 L301.43,139.92 L302.36,139.81 L303.29,139.70 L304.23,139.60 L305.16,139.49 L306.10,139.39 L307.03,139.29 L307.96,139.18 L308.90,139.08 L309.83,138.98 L310.77,138.87 L311.70,138.77 L312.63,138.67 L313.57,138.56 L314.50,138.45 L315.44,138.35 L316.37,138.25 L317.30,138.14 L318.24,138.04 L319.17,137.93 L320.11,137.83 L321.04,137.73 L321.97,137.63 L322.91,137.52 L323.84,137.42 L324.78,137.32 L325.71,137.22 L326.64,137.12 L327.58,137.02 L328.51,136.92 L329.45,136.82 L330.38,136.72 L331.31,136.62 L332.25,136.52 L333.18,136.43 L334.12,136.33 L335.05,136.23 L335.98,136.13 L336.92,136.04 L337.85,135.94 L338.79,135.84 L339.72,135.75 L340.65,135.65 L341.59,135.56 L342.52,135.46 L343.46,135.37 L344.39,135.28 L345.32,135.18 L346.26,135.09 L347.19,134.99 L348.13,134.90 L349.06,134.81 L349.99,134.72 L350.93,134.62 L351.86,134.53 L352.80,134.44 L353.73,134.35 L354.66,134.26 L355.60,134.17 L356.53,134.08 L357.47,133.99 L358.40,133.90 L359.33,133.81 L360.27,133.72 L361.20,133.63 L362.14,133.54 L363.07,133.46 L364.00,133.37 L364.94,133.28 L365.87,133.19 L366.81,133.11 L367.74,133.02 L368.67,132.93 L369.61,132.85 L370.54,132.76 L371.48,132.67 L372.41,132.59 L373.34,132.50 L374.28,132.42 L375.21,132.33 L376.15,132.25 L377.08,132.17 L378.01,132.08 L378.95,132.00 L379.88,131.91 L380.82,131.83 L381.75,131.75 L382.68,131.67 L383.62,131.58 L384.55,131.50 L385.49,131.42 L386.42,131.34 L387.35,131.26 L388.29,131.17 L389.22,131.09 L390.16,131.01 L391.09,130.93 L392.02,130.85 L392.96,130.77 L393.89,130.69 L394.83,130.61 L395.76,130.53 L396.69,130.45 L397.63,130.37 L398.56,130.30 L399.50,130.22 L400.43,130.14 L401.36,130.06 L402.30,129.98 L403.23,129.91 L404.17,129.83 L405.10,129.75 L406.03,129.67 L406.97,129.60 L407.90,129.52 L408.84,129.44 L409.77,129.37 L410.70,129.29 L411.64,129.22 L412.57,129.14 L413.51,129.07 L414.44,128.99 L415.37,128.92 L416.31,128.84 L417.24,128.77 L418.18,128.69 L419.11,128.62 L420.04,128.55 L420.98,128.47 L421.91,128.40 L422.85,128.33 L423.78,128.25 L424.71,128.18 L425.65,128.11 L426.58,128.03 L427.52,127.96 L428.45,127.89 L429.38,127.82 L430.32,127.75 L431.25,127.67 L432.19,127.60 L433.12,127.53 L434.05,127.46 L434.99,127.39 L435.92,127.32 L436.86,127.25 L437.79,127.18 L438.72,127.11 L439.66,127.04 L440.59,126.97 L441.53,126.91 L442.46,126.84 L443.39,126.78 L444.33,126.72 L445.26,126.65 L446.20,126.59 L447.13,126.53 L448.06,126.46 L449.00,126.40 L449.93,126.34 L450.87,126.28 L451.80,126.21 L452.73,126.15 L453.67,126.09 L454.60,126.03 L455.54,125.96 L456.47,125.90 L457.40,125.84 L458.34,125.78 L459.27,125.72 L460.21,125.66 L461.14,125.60 L462.07,125.53 L463.01,125.47 L463.94,125.41 L464.88,125.35 L465.81,125.29 L466.74,125.23 L467.68,125.17 L468.61,125.11 L469.55,125.05 L470.48,124.99 L471.41,124.93 L472.35,124.88 L473.28,124.82 L474.22,124.76 L475.15,124.70 L476.08,124.64 L477.02,124.58 L477.95,124.52 L478.89,124.46 L479.82,124.41 L480.75,124.35 L481.69,124.29 L482.62,124.23 L483.56,124.18 L484.49,124.12 L485.42,124.06 L486.36,124.00 L487.29,123.95 L488.23,123.89 L489.16,123.83 L490.09,123.78 L491.03,123.72 L491.96,123.66 L492.90,123.61 L493.83,123.55" stroke="#EB6235"/>
<path d="M36.17,295.40 L37.10,289.40 L38.04,284.35 L38.97,280.00 L39.91,276.18 L40.84,272.76 L41.77,269.69 L42.71,266.88 L43.64,264.31 L44.58,261.93 L45.51,259.72 L46.44,257.66 L47.38,255.72 L48.31,253.90 L49.25,252.18 L50.18,250.55 L51.11,249.00 L52.05,247.52 L52.98,246.11 L53.92,244.77 L54.85,243.47 L55.78,242.23 L56.72,241.04 L57.65,239.78 L58.59,238.50 L59.52,237.27 L60.45,236.09 L61.39,234.94 L62.32,233.82 L63.26,232.74 L64.19,231.71 L65.12,230.78 L66.06,229.87 L66.99,228.99 L67.93,228.13 L68.86,227.29 L69.79,226.48 L70.73,225.68 L71.66,224.91 L72.60,224.15 L73.53,223.41 L74.46,222.68 L75.40,221.97 L76.33,221.28 L77.27,220.60 L78.20,219.94 L79.13,219.28 L80.07,218.65 L81.00,218.02 L81.94,217.40 L82.87,216.80 L83.80,216.21 L84.74,215.63 L85.67,215.06 L86.61,214.50 L87.54,213.94 L88.47,213.40 L89.41,212.87 L90.34,212.34 L91.28,211.83 L92.21,211.32 L93.14,210.82 L94.08,210.33 L95.01,209.84 L95.95,209.39 L96.88,208.95 L97.81,208.51 L98.75,208.08 L99.68,207.65 L100.62,207.24 L101.55,206.82 L102.48,206.41 L103.42,206.01 L104.35,205.62 L105.29,205.22 L106.22,204.84 L107.15,204.45 L108.09,204.08 L109.02,203.70 L109.96,203.34 L110.89,202.97 L111.82,202.61 L112.76,202.26 L113.69,201.91 L114.63,201.56 L115.56,201.22 L116.49,200.88 L117.43,200.54 L118.36,200.21 L119.30,199.88 L120.23,199.56 L121.16,199.24 L122.10,198.92 L123.03,198.60 L123.97,198.29 L124.90,197.99 L125.83,197.66 L126.77,197.34 L127.70,197.03 L128.64,196.71 L129.57,196.40 L130.50,196.09 L131.44,195.79 L132.37,195.48 L133.31,195.18 L134.24,194.89 L135.17,194.59 L136.11,194.30 L137.04,194.01 L137.98,193.73 L138.91,193.44 L139.84,193.16 L140.78,192.88 L141.71,192.61 L142.65,192.33 L143.58,192.06 L144.51,191.79 L145.45,191.53 L146.38,191.26 L147.32,191.00 L148.25,190.74 L149.18,190.48 L150.12,190.22 L151.05,189.97 L151.99,189.72 L152.92,189.46 L153.85,189.22 L154.79,188.97 L155.72,188.73 L156.66,188.49 L157.59,188.25 L158.52,188.02 L159.46,187.78 L160.39,187.55 L161.33,187.32 L162.26,187.09 L163.19,186.86 L164.13,186.64 L165.06,186.41 L166.00,186.19 L166.93,185.97 L167.86,185.75 L168.80,185.53 L169.73,185.32 L170.67,185.10 L171.60,184.89 L172.53,184.67 L173.47,184.46 L174.40,184.25 L175.34,184.05 L176.27,183.84 L177.20,183.64 L178.14,183.43 L179.07,183.23 L180.01,183.03 L180.94,182.83 L181.87,182.63 L182.81,182.43 L183.74,182.24 L184.68,182.04 L185.61,181.85 L186.54,181.65 L187.48,181.46 L188.41,181.27 L189.35,181.08 L190.28,180.90 L191.21,180.71 L192.15,180.52 L193.08,180.34 L194.02,180.15 L194.95,179.97 L195.88,179.79 L196.82,179.61 L197.75,179.43 L198.69,179.25 L199.62,179.07 L200.55,178.90 L201.49,178.72 L202.42,178.55 L203.36,178.37 L204.29,178.20 L205.22,178.03 L206.16,177.86 L207.09,177.69 L208.03,177.52 L208.96,177.35 L209.89,177.19 L210.83,177.02 L211.76,176.85 L212.70,176.69 L213.63,176.53 L214.56,176.36 L215.50,176.20 L216.43,176.04 L217.37,175.88 L218.30,175.72 L219.23,175.56 L220.17,175.40 L221.10,175.25 L222.04,175.09 L222.97,174.94 L223.90,174.78 L224.84,174.63 L225.77,174.47 L226.71,174.32 L227.64,174.17 L228.57,174.02 L229.51,173.87 L230.44,173.72 L231.38,173.57 L232.31,173.42 L233.24,173.27 L234.18,173.13 L235.11,172.98 L236.05,172.84 L236.98,172.69 L237.91,172.55 L238.85,172.40 L239.78,172.26 L240.72,172.12 L241.65,171.98 L242.58,171.84 L243.52,171.70 L244.45,171.56 L245.39,171.42 L246.32,171.28 L247.25,171.14 L248.19,171.00 L249.12,170.87 L250.06,170.73 L250.99,170.60 L251.92,170.46 L252.86,170.33 L253.79,170.19 L254.73,170.06 L255.66,169.93 L256.59,169.79 L257.53,169.66 L258.46,169.53 L259.40,169.40 L260.33,169.27 L261.26,169.14 L262.20,169.01 L263.13,168.89 L264.07,168.76 L265.00,168.63 L265.93,168.50 L266.87,168.38 L267.80,168.25 L268.74,168.13 L269.67,168.00 L270.60,167.88 L271.54,167.75 L272.47,167.63 L273.41,167.51 L274.34,167.39 L275.27,167.26 L276.21,167.14 L277.14,167.02 L278.08,166.90 L279.01,166.78 L279.94,166.66 L280.88,166.54 L281.81,166.42 L282.75,166.31 L283.68,166.19 L284.61,166.07 L285.55,165.95 L286.48,165.84 L287.42,165.72 L288.35,165.61 L289.28,165.49 L290.22,165.38 L291.15,165.26 L292.09,165.15 L293.02,165.03 L293.95,164.92 L294.89,164.81 L295.82,164.70 L296.76,164.58 L297.69,164.47 L298.62,164.36 L299.56,164.25 L300.49,164.14 L301.43,164.03 L302.36,163.92 L303.29,163.81 L304.23,163.70 L305.16,163.60 L306.10,163.49 L307.03,163.38 L307.96,163.27 L308.90,163.17 L309.83,163.06 L310.77,162.95 L311.70,162.85 L312.63,162.74 L313.57,162.63 L314.50,162.53 L315.44,162.42 L316.37,162.31 L317.30,162.21 L318.24,162.10 L319.17,161.99 L320.11,161.89 L321.04,161.78 L321.97,161.68 L322.91,161.58 L323.84,161.47 L324.78,161.37 L325.71,161.27 L326.64,161.16 L327.58,161.06 L328.51,160.96 L329.45,160.86 L330.38,160.75 L331.31,160.65 L332.25,160.55 L333.18,160.45 L334.12,160.35 L335.05,160.25 L335.98,160.15 L336.92,160.05 L337.85,159.95 L338.79,159.86 L339.72,159.76 L340.65,159.66 L341.59,159.56 L342.52,159.46 L343.46,159.37 L344.39,159.27 L345.32,159.17 L346.26,159.08 L347.19,158.98 L348.13,158.88 L349.06,158.79 L349.99,158.69 L350.93,158.60 L351.86,158.50 L352.80,158.41 L353.73,158.32 L354.66,158.22 L355.60,158.13 L356.53,158.04 L357.47,157.94 L358.40,157.85 L359.33,157.76 L360.27,157.66 L361.20,157.57 L362.14,157.48 L363.07,157.39 L364.00,157.30 L364.94,157.21 L365.87,157.12 L366.81,157.03 L367.74,156.94 L368.67,156.85 L369.61,156.76 L370.54,156.67 L371.48,156.58 L372.41,156.49 L373.34,156.40 L374.28,156.31 L375.21,156.22 L376.15,156.14 L377.08,156.05 L378.01,155.96 L378.95,155.87 L379.88,155.79 L380.82,155.70 L381.75,155.61 L382.68,155.53 L383.62,155.44 L384.55,155.36 L385.49,155.27 L386.42,155.18 L387.35,155.10 L388.29,155.01 L389.22,154.93 L390.16,154.85 L391.09,154.76 L392.02,154.68 L392.96,154.59 L393.89,154.51 L394.83,154.43 L395.76,154.34 L396.69,154.26 L397.63,154.18 L398.56,154.10 L399.50,154.01 L400.43,153.93 L401.36,153.85 L402.30,153.77 L403.23,153.69 L404.17,153.60 L405.10,153.52 L406.03,153.44 L406.97,153.36 L407.90,153.28 L408.84,153.20 L409.77,153.12 L410.70,153.04 L411.64,152.96 L412.57,152.88 L413.51,152.80 L414.44,152.72 L415.37,152.65 L416.31,152.57 L417.24,152.49 L418.18,152.41 L419.11,152.33 L420.04,152.25 L420.98,152.18 L421.91,152.10 L422.85,152.02 L423.78,151.94 L424.71,151.87 L425.65,151.79 L426.58,151.71 L427.52,151.64 L428.45,151.56 L429.38,151.48 L430.32,151.41 L431.25,151.33 L432.19,151.26 L433.12,151.18 L434.05,151.11 L434.99,151.03 L435.92,150.96 L436.86,150.88 L437.79,150.81 L438.72,150.73 L439.66,150.66 L440.59,150.59 L441.53,150.52 L442.46,150.46 L443.39,150.39 L444.33,150.32 L445.26,150.26 L446.20,150.19 L447.13,150.12 L448.06,150.06 L449.00,149.99 L449.93,149.93 L450.87,149.86 L451.80,149.79 L452.73,149.73 L453.67,149.66 L454.60,149.60 L455.54,149.53 L456.47,149.47 L457.40,149.41 L458.34,149.34 L459.27,149.28 L460.21,149.21 L461.14,149.15 L462.07,149.08 L463.01,149.02 L463.94,148.96 L464.88,148.89 L465.81,148.83 L466.74,148.77 L467.68,148.70 L468.61,148.64 L469.55,148.58 L470.48,148.52 L471.41,148.45 L472.35,148.39 L473.28,148.33 L474.22,148.27 L475.15,148.20 L476.08,148.14 L477.02,148.08 L477.95,148.02 L478.89,147.96 L479.82,147.90 L480.75,147.84 L481.69,147.77 L482.62,147.71 L483.56,147.65 L484.49,147.59 L485.42,147.53 L486.36,147.47 L487.29,147.41 L488.23,147.35 L489.16,147.29 L490.09,147.23 L491.03,147.17 L491.96,147.11 L492.90,147.05 L493.83,146.99" stroke="#996633"/>
</g>
<path d="M493.83,107.25 L492.90,107.32 L491.96,107.39 L491.03,107.46 L490.09,107.53 L489.16,107.60 L488.23,107.67 L487.29,107.74 L486.36,107.81 L485.42,107.88 L484.49,107.95 L483.56,108.02 L482.62,108.09 L481.69,108.16 L480.75,108.23 L479.82,108.30 L478.89,108.38 L477.95,108.45 L477.02,108.52 L476.08,108.59 L475.15,108.66 L474.22,108.73 L473.28,108.81 L472.35,108.88 L471.41,108.95 L470.48,109.02 L469.55,109.10 L468.61,109.17 L467.68,109.24 L466.74,109.32 L465.81,109.39 L464.88,109.46 L463.94,109.54 L463.01,109.61 L462.07,109.69 L461.14,109.76 L460.21,109.84 L459.27,109.91 L458.34,109.99 L457.40,110.06 L456.47,110.14 L455.54,110.21 L454.60,110.29 L453.67,110.36 L452.73,110.44 L451.80,110.52 L450.87,110.59 L449.93,110.67 L449.00,110.74 L448.06,110.82 L447.13,110.90 L446.20,110.98 L445.26,111.05 L444.33,111.13 L443.39,111.21 L442.46,111.29 L441.53,111.37 L440.59,111.44 L439.66,111.52 L438.72,111.60 L437.79,111.68 L436.86,111.76 L435.92,111.84 L434.99,111.92 L434.05,112.00 L433.12,112.08 L432.19,112.16 L431.25,112.24 L430.32,112.32 L429.38,112.40 L428.45,112.48 L427.52,112.56 L426.58,112.64 L425.65,112.72 L424.71,112.81 L423.78,112.89 L422.85,112.97 L421.91,113.05 L420.98,113.13 L420.04,113.22 L419.11,113.30 L418.18,113.38 L417.24,113.47 L416.31,113.55 L415.37,113.63 L414.44,113.72 L413.51,113.80 L412.57,113.89 L411.64,113.97 L410.70,114.06 L409.77,114.14 L408.84,114.23 L407.90,114.31 L406.97,114.40 L406.03,114.48 L405.10,114.57 L404.17,114.66 L403.23,114.74 L402.30,114.83 L401.36,114.92 L400.43,115.01 L399.50,115.09 L398.56,115.18 L397.63,115.27 L396.69,115.36 L395.76,115.45 L394.83,115.54 L393.89,115.62 L392.96,115.71 L392.02,115.80 L391.09,115.89 L390.16,115.98 L389.22,116.07 L388.29,116.16 L387.35,116.26 L386.42,116.35 L385.49,116.44 L384.55,116.53 L383.62,116.62 L382.68,116.71 L381.75,116.81 L380.82,116.90 L379.88,116.99 L378.95,117.08 L378.01,117.18 L377.08,117.27 L376.15,117.36 L375.21,117.46 L374.28,117.55 L373.34,117.65 L372.41,117.74 L371.48,117.84 L370.54,117.93 L369.61,118.03 L368.67,118.13 L367.74,118.22 L366.81,118.32 L365.87,118.42 L364.94,118.51 L364.00,118.61 L363.07,118.71 L362.14,118.81 L361.20,118.91 L360.27,119.00 L359.33,119.10 L358.40,119.20 L357.47,119.30 L356.53,119.40 L355.60,119.50 L354.66,119.60 L353.73,119.70 L352.80,119.81 L351.86,119.91 L350.93,120.01 L349.99,120.11 L349.06,120.21 L348.13,120.32 L347.19,120.42 L346.26,120.52 L345.32,120.63 L344.39,120.73 L343.46,120.83 L342.52,120.94 L341.59,121.04 L340.65,121.15 L339.72,121.26 L338.79,121.36 L337.85,121.47 L336.92,121.58 L335.98,121.68 L335.05,121.79 L334.12,121.90 L333.18,122.01 L332.25,122.11 L331.31,122.22 L330.38,122.33 L329.45,122.44 L328.51,122.55 L327.58,122.66 L326.64,122.77 L325.71,122.88 L324.78,123.00 L323.84,123.11 L322.91,123.22 L321.97,123.33 L321.04,123.45 L320.11,123.56 L319.17,123.67 L318.24,123.79 L317.30,123.90 L316.37,124.02 L315.44,124.13 L314.50,124.25 L313.57,124.36 L312.63,124.48 L311.70,124.60 L310.77,124.71 L309.83,124.83 L308.90,124.94 L307.96,125.06 L307.03,125.18 L306.10,125.30 L305.16,125.41 L304.23,125.53 L303.29,125.65 L302.36,125.77 L301.43,125.89 L300.49,126.01 L299.56,126.13 L298.62,126.25 L297.69,126.38 L296.76,126.50 L295.82,126.62 L294.89,126.74 L293.95,126.87 L293.02,126.99 L292.09,127.12 L291.15,127.24 L290.22,127.37 L289.28,127.49 L288.35,127.62 L287.42,127.75 L286.48,127.87 L285.55,128.00 L284.61,128.13 L283.68,128.26 L282.75,128.39 L281.81,128.52 L280.88,128.65 L279.94,128.78 L279.01,128.91 L278.08,129.04 L277.14,129.18 L276.21,129.31 L275.27,129.44 L274.34,129.58 L273.41,129.71 L272.47,129.85 L271.54,129.98 L270.60,130.12 L269.67,130.26 L268.74,130.39 L267.80,130.53 L266.87,130.67 L265.93,130.81 L265.00,130.95 L264.07,131.09 L263.13,131.23 L262.20,131.37 L261.26,131.52 L260.33,131.66 L259.40,131.80 L258.46,131.95 L257.53,132.09 L256.59,132.24 L255.66,132.38 L254.73,132.53 L253.79,132.68 L252.86,132.83 L251.92,132.97 L250.99,133.12 L250.06,133.27 L249.12,133.43 L248.19,133.58 L247.25,133.73 L246.32,133.88 L245.39,134.04 L244.45,134.19 L243.52,134.35 L242.58,134.50 L241.65,134.66 L240.72,134.82 L239.78,134.97 L238.85,135.13 L237.91,135.29 L236.98,135.45 L236.05,135.61 L235.11,135.78 L234.18,135.94 L233.24,136.10 L232.31,136.27 L231.38,136.43 L230.44,136.60 L229.51,136.76 L228.57,136.93 L227.64,137.10 L226.71,137.27 L225.77,137.44 L224.84,137.61 L223.90,137.78 L222.97,137.96 L222.04,138.13 L221.10,138.30 L220.17,138.48 L219.23,138.66 L218.30,138.83 L217.37,139.01 L216.43,139.20 L215.50,139.38 L214.56,139.57 L213.63,139.75 L212.70,139.94 L211.76,140.13 L210.83,140.31 L209.89,140.50 L208.96,140.69 L208.03,140.89 L207.09,141.08 L206.16,141.27 L205.22,141.47 L204.29,141.66 L203.36,141.86 L202.42,142.06 L201.49,142.26 L200.55,142.46 L199.62,142.66 L198.69,142.87 L197.75,143.07 L196.82,143.28 L195.88,143.48 L194.95,143.69 L194.02,143.90 L193.08,144.11 L192.15,144.32 L191.21,144.54 L190.28,144.75 L189.35,144.97 L188.41,145.19 L187.48,145.41 L186.54,145.63 L185.61,145.85 L184.68,146.07 L183.74,146.30 L182.81,146.52 L181.87,146.75 L180.94,146.98 L180.01,147.21 L179.07,147.44 L178.14,147.68 L177.20,147.91 L176.27,148.15 L175.34,148.39 L174.40,148.63 L173.47,148.87 L172.53,149.11 L171.60,149.36 L170.67,149.61 L169.73,149.86 L168.80,150.11 L167.86,150.36 L166.93,150.62 L166.00,150.87 L165.06,151.13 L164.13,151.39 L163.19,151.65 L162.26,151.92 L161.33,152.18 L160.39,152.45 L159.46,152.72 L158.52,153.00 L157.59,153.27 L156.66,153.55 L155.72,153.83 L154.79,154.11 L153.85,154.39 L152.92,154.68 L151.99,154.97 L151.05,155.26 L150.12,155.55 L149.18,155.85 L148.25,156.15 L147.32,156.45 L146.38,156.75 L145.45,157.06 L144.51,157.37 L143.58,157.68 L142.65,158.00 L141.71,158.31 L140.78,158.63 L139.84,158.96 L138.91,159.28 L137.98,159.61 L137.04,159.95 L136.11,160.28 L135.17,160.62 L134.24,160.96 L133.31,161.31 L132.37,161.66 L131.44,162.01 L130.50,162.37 L129.57,162.73 L128.64,163.09 L127.70,163.46 L126.77,163.83 L125.83,164.21 L124.90,164.59 L123.97,164.98 L123.03,165.38 L122.10,165.79 L121.16,166.19 L120.23,166.61 L119.30,167.03 L118.36,167.45 L117.43,167.88 L116.49,168.31 L115.56,168.75 L114.63,169.19 L113.69,169.64 L112.76,170.09 L111.82,170.55 L110.89,171.02 L109.96,171.49 L109.02,171.97 L108.09,172.45 L107.15,172.94 L106.22,173.44 L105.29,173.95 L104.35,174.46 L103.42,174.97 L102.48,175.50 L101.55,176.03 L100.62,176.57 L99.68,177.12 L98.75,177.68 L97.81,178.24 L96.88,178.82 L95.95,179.40 L95.01,179.99 L94.08,180.59 L93.14,181.20 L92.21,181.82 L91.28,182.46 L90.34,183.10 L89.41,183.75 L88.47,184.42 L87.54,185.09 L86.61,185.78 L85.67,186.49 L84.74,187.20 L83.80,187.93 L82.87,188.67 L81.94,189.43 L81.00,190.21 L80.07,191.00 L79.13,191.80 L78.20,192.63 L77.27,193.47 L76.33,194.33 L75.40,195.21 L74.46,196.11 L73.53,197.03 L72.60,197.98 L71.66,198.94 L70.73,199.94 L69.79,200.96 L68.86,202.00 L67.93,203.04 L66.99,204.11 L66.06,205.21 L65.12,206.35 L64.19,207.52 L63.26,208.73 L62.32,209.97 L61.39,211.26 L60.45,212.59 L59.52,213.98 L58.59,215.41 L57.65,216.90 L56.72,218.44 L55.78,220.05 L54.85,221.73 L53.92,223.49 L52.98,225.33 L52.05,227.25 L51.11,229.28 L50.18,231.41 L49.25,233.63 L48.31,235.97 L47.38,238.46 L46.44,241.12 L45.51,243.96 L44.58,247.02 L43.64,250.34 L42.71,253.94 L41.77,257.89 L40.84,262.26 L39.91,267.15 L38.97,272.67 L38.04,279.01 L37.10,286.44 L36.17,295.40" fill="none" stroke="#000" stroke-width="3.4" stroke-linecap="square" stroke-dasharray="5.670,5.670" stroke-dashoffset="5.620"/>
<g stroke="#666" stroke-width="0.7" fill="none"><rect x="21.85" y="4.35" width="481.85" height="297.10"/><line x1="31.50" y1="301.45" x2="31.50" y2="295.85"/><line x1="31.50" y1="4.35" x2="31.50" y2="9.95"/><line x1="54.85" y1="301.45" x2="54.85" y2="298.05"/><line x1="54.85" y1="4.35" x2="54.85" y2="7.75"/><line x1="78.20" y1="301.45" x2="78.20" y2="298.05"/><line x1="78.20" y1="4.35" x2="78.20" y2="7.75"/><line x1="101.55" y1="301.45" x2="101.55" y2="298.05"/><line x1="101.55" y1="4.35" x2="101.55" y2="7.75"/><line x1="124.90" y1="301.45" x2="124.90" y2="295.85"/><line x1="124.90" y1="4.35" x2="124.90" y2="9.95"/><line x1="148.25" y1="301.45" x2="148.25" y2="298.05"/><line x1="148.25" y1="4.35" x2="148.25" y2="7.75"/><line x1="171.60" y1="301.45" x2="171.60" y2="298.05"/><line x1="171.60" y1="4.35" x2="171.60" y2="7.75"/><line x1="194.95" y1="301.45" x2="194.95" y2="298.05"/><line x1="194.95" y1="4.35" x2="194.95" y2="7.75"/><line x1="218.30" y1="301.45" x2="218.30" y2="295.85"/><line x1="218.30" y1="4.35" x2="218.30" y2="9.95"/><line x1="241.65" y1="301.45" x2="241.65" y2="298.05"/><line x1="241.65" y1="4.35" x2="241.65" y2="7.75"/><line x1="265.00" y1="301.45" x2="265.00" y2="298.05"/><line x1="265.00" y1="4.35" x2="265.00" y2="7.75"/><line x1="288.35" y1="301.45" x2="288.35" y2="298.05"/><line x1="288.35" y1="4.35" x2="288.35" y2="7.75"/><line x1="311.70" y1="301.45" x2="311.70" y2="295.85"/><line x1="311.70" y1="4.35" x2="311.70" y2="9.95"/><line x1="335.05" y1="301.45" x2="335.05" y2="298.05"/><line x1="335.05" y1="4.35" x2="335.05" y2="7.75"/><line x1="358.40" y1="301.45" x2="358.40" y2="298.05"/><line x1="358.40" y1="4.35" x2="358.40" y2="7.75"/><line x1="381.75" y1="301.45" x2="381.75" y2="298.05"/><line x1="381.75" y1="4.35" x2="381.75" y2="7.75"/><line x1="405.10" y1="301.45" x2="405.10" y2="295.85"/><line x1="405.10" y1="4.35" x2="405.10" y2="9.95"/><line x1="428.45" y1="301.45" x2="428.45" y2="298.05"/><line x1="428.45" y1="4.35" x2="428.45" y2="7.75"/><line x1="451.80" y1="301.45" x2="451.80" y2="298.05"/><line x1="451.80" y1="4.35" x2="451.80" y2="7.75"/><line x1="475.15" y1="301.45" x2="475.15" y2="298.05"/><line x1="475.15" y1="4.35" x2="475.15" y2="7.75"/><line x1="498.50" y1="301.45" x2="498.50" y2="295.85"/><line x1="498.50" y1="4.35" x2="498.50" y2="9.95"/><line x1="21.85" y1="295.42" x2="27.85" y2="295.42"/><line x1="503.70" y1="295.42" x2="497.70" y2="295.42"/><line x1="21.85" y1="279.51" x2="25.25" y2="279.51"/><line x1="503.70" y1="279.51" x2="500.30" y2="279.51"/><line x1="21.85" y1="263.60" x2="25.25" y2="263.60"/><line x1="503.70" y1="263.60" x2="500.30" y2="263.60"/><line x1="21.85" y1="247.69" x2="25.25" y2="247.69"/><line x1="503.70" y1="247.69" x2="500.30" y2="247.69"/><line x1="21.85" y1="231.78" x2="27.85" y2="231.78"/><line x1="503.70" y1="231.78" x2="497.70" y2="231.78"/><line x1="21.85" y1="215.87" x2="25.25" y2="215.87"/><line x1="503.70" y1="215.87" x2="500.30" y2="215.87"/><line x1="21.85" y1="199.96" x2="25.25" y2="199.96"/><line x1="503.70" y1="199.96" x2="500.30" y2="199.96"/><line x1="21.85" y1="184.05" x2="25.25" y2="184.05"/><line x1="503.70" y1="184.05" x2="500.30" y2="184.05"/><line x1="21.85" y1="168.14" x2="27.85" y2="168.14"/><line x1="503.70" y1="168.14" x2="497.70" y2="168.14"/><line x1="21.85" y1="152.23" x2="25.25" y2="152.23"/><line x1="503.70" y1="152.23" x2="500.30" y2="152.23"/><line x1="21.85" y1="136.32" x2="25.25" y2="136.32"/><line x1="503.70" y1="136.32" x2="500.30" y2="136.32"/><line x1="21.85" y1="120.41" x2="25.25" y2="120.41"/><line x1="503.70" y1="120.41" x2="500.30" y2="120.41"/><line x1="21.85" y1="104.50" x2="27.85" y2="104.50"/><line x1="503.70" y1="104.50" x2="497.70" y2="104.50"/><line x1="21.85" y1="88.59" x2="25.25" y2="88.59"/><line x1="503.70" y1="88.59" x2="500.30" y2="88.59"/><line x1="21.85" y1="72.68" x2="25.25" y2="72.68"/><line x1="503.70" y1="72.68" x2="500.30" y2="72.68"/><line x1="21.85" y1="56.77" x2="25.25" y2="56.77"/><line x1="503.70" y1="56.77" x2="500.30" y2="56.77"/><line x1="21.85" y1="40.86" x2="27.85" y2="40.86"/><line x1="503.70" y1="40.86" x2="497.70" y2="40.86"/><line x1="21.85" y1="24.95" x2="25.25" y2="24.95"/><line x1="503.70" y1="24.95" x2="500.30" y2="24.95"/><line x1="21.85" y1="9.04" x2="25.25" y2="9.04"/><line x1="503.70" y1="9.04" x2="500.30" y2="9.04"/></g>
<text x="31.50" y="317.6" font-size="12.60" text-anchor="middle">0</text>
<text x="124.90" y="317.6" font-size="12.60" text-anchor="middle">20</text>
<text x="218.30" y="317.6" font-size="12.60" text-anchor="middle">40</text>
<text x="311.70" y="317.6" font-size="12.60" text-anchor="middle">60</text>
<text x="405.10" y="317.6" font-size="12.60" text-anchor="middle">80</text>
<text x="498.50" y="317.6" font-size="12.60" text-anchor="middle">100</text>
<text x="17.3" y="299.92" font-size="12.60" text-anchor="end">0.0</text>
<text x="17.3" y="236.28" font-size="12.60" text-anchor="end">0.2</text>
<text x="17.3" y="172.64" font-size="12.60" text-anchor="end">0.4</text>
<text x="17.3" y="109.00" font-size="12.60" text-anchor="end">0.6</text>
<text x="17.3" y="45.36" font-size="12.60" text-anchor="end">0.8</text>
<line x1="531.7" y1="83.60" x2="588.2" y2="83.60" stroke="#5E81B5" stroke-width="2.8"/>
<text x="597.6" y="89.20" font-size="18.40">0.15</text>
<line x1="531.7" y1="114.05" x2="588.2" y2="114.05" stroke="#E19C24" stroke-width="2.8"/>
<text x="597.6" y="119.65" font-size="18.40">0.2</text>
<line x1="531.7" y1="144.50" x2="588.2" y2="144.50" stroke="#8FB032" stroke-width="2.8"/>
<text x="597.6" y="150.10" font-size="18.40">0.225</text>
<line x1="531.7" y1="174.95" x2="588.2" y2="174.95" stroke="#EB6235" stroke-width="2.8"/>
<text x="597.6" y="180.55" font-size="18.40">0.25</text>
<line x1="531.7" y1="205.40" x2="588.2" y2="205.40" stroke="#996633" stroke-width="2.8"/>
<text x="597.6" y="211.00" font-size="18.40">0.3</text>
<line x1="533.2" y1="235.85" x2="587" y2="235.85" stroke="#000" stroke-width="3.2" stroke-linecap="square" stroke-dasharray="5.65,5.65"/>
<text x="597.6" y="241.45" font-size="18.40">data</text>
</svg></body></html>
